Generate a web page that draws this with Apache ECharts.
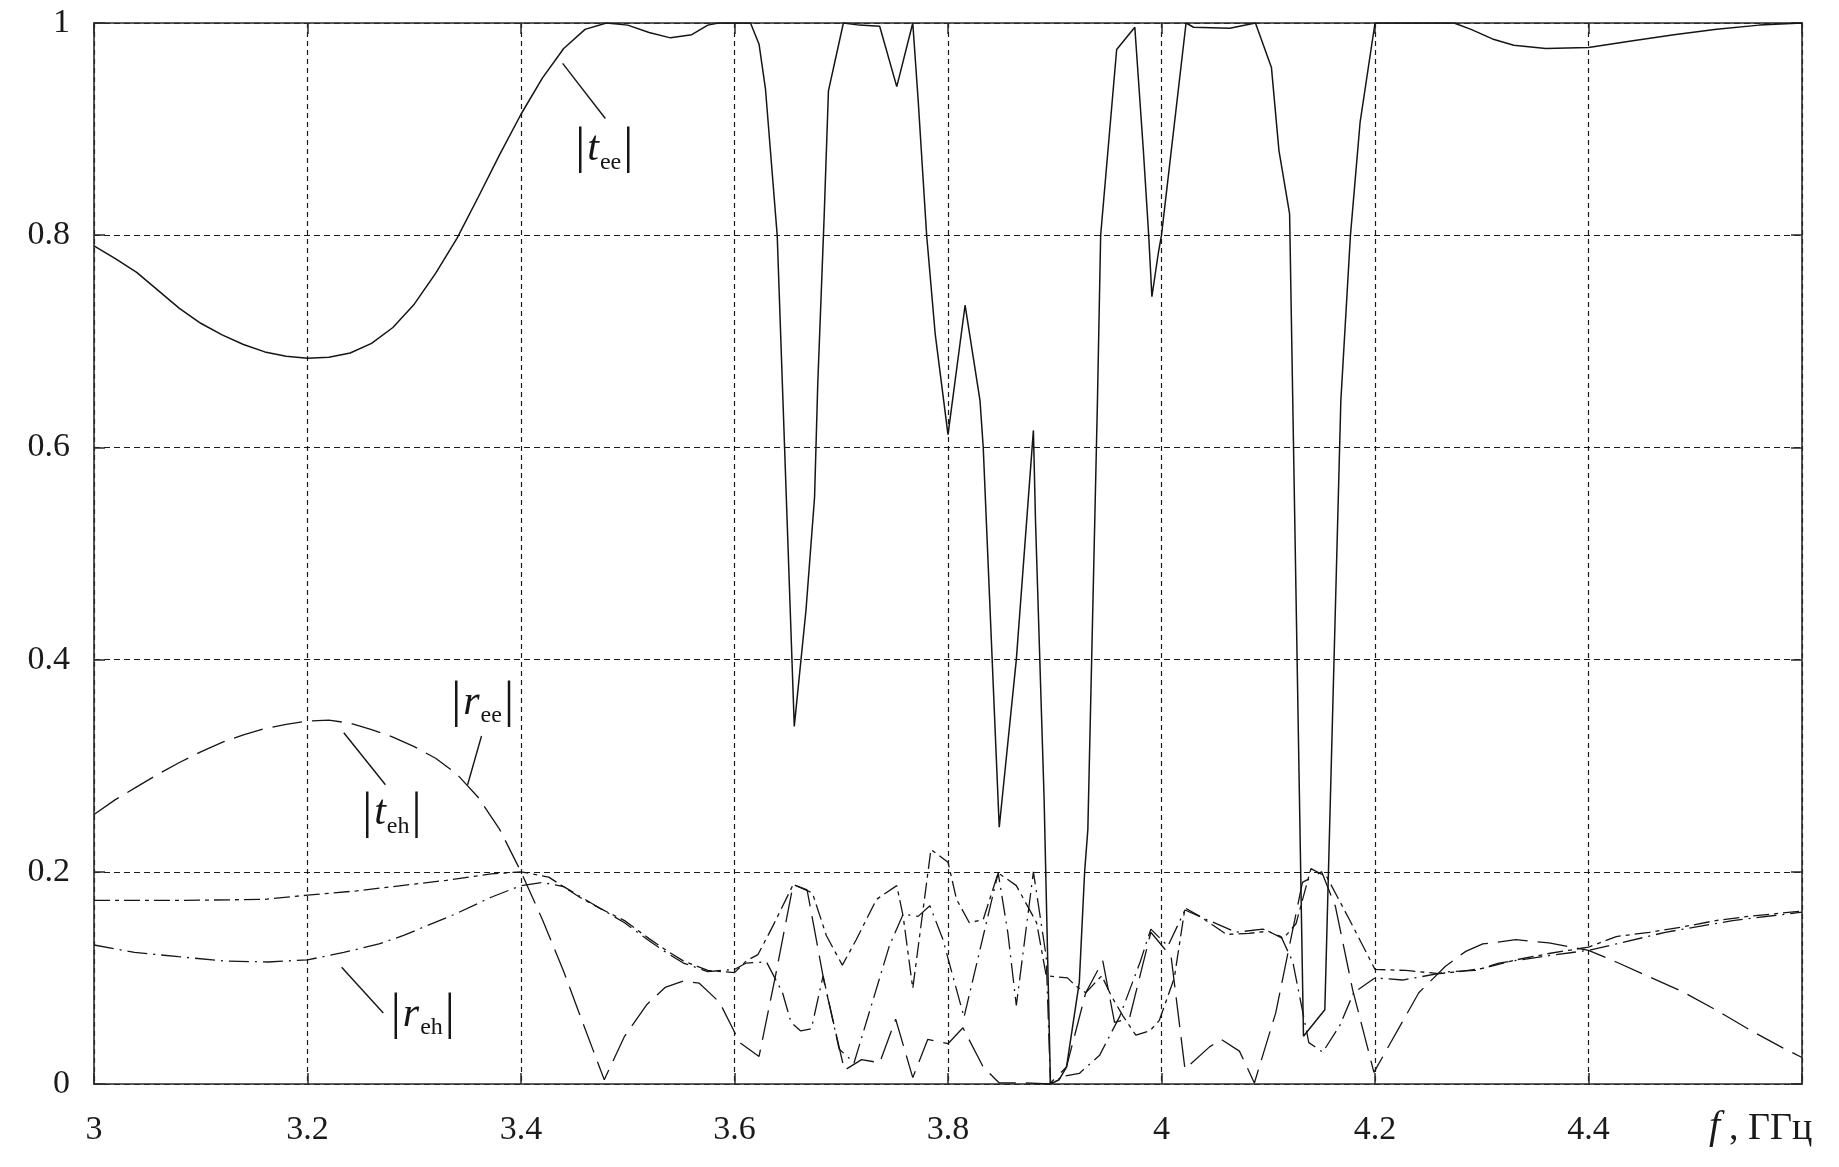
<!DOCTYPE html>
<html>
<head>
<meta charset="utf-8">
<script src="https://cdn.jsdelivr.net/npm/echarts@6/dist/echarts.min.js"></script>
<style>
html,body{margin:0;padding:0;background:#fff;}
#chart{width:1839px;height:1167px;}
</style>
</head>
<body>
<div id="chart"></div>
<script>
// ---- DATA (frequency GHz, magnitude) ----
const xTicks = [3, 3.2, 3.4, 3.6, 3.8, 4, 4.2, 4.4, 4.6];
const yTicks = [0, 0.2, 0.4, 0.6, 0.8, 1];

const tEE = [[3.00,0.790],[3.02,0.778],[3.04,0.765],[3.06,0.748],[3.08,0.731],[3.10,0.717],[3.12,0.706],[3.14,0.697],[3.16,0.690],[3.18,0.686],[3.20,0.684],[3.22,0.685],[3.24,0.689],[3.26,0.698],[3.28,0.713],[3.30,0.735],[3.32,0.764],[3.34,0.797],[3.36,0.836],[3.38,0.876],[3.40,0.914],[3.42,0.948],[3.44,0.976],[3.46,0.994],[3.48,1.000],[3.50,0.998],[3.52,0.991],[3.54,0.986],[3.56,0.989],[3.575,0.998],[3.585,1.000],[3.615,1.000],[3.623,0.980],[3.629,0.938],[3.640,0.800],[3.656,0.337],[3.667,0.447],[3.675,0.553],[3.678,0.660],[3.684,0.818],[3.688,0.936],[3.702,1.000],[3.717,0.998],[3.736,0.997],[3.752,0.940],[3.767,1.000],[3.772,0.928],[3.780,0.800],[3.788,0.707],[3.800,0.612],[3.816,0.734],[3.830,0.644],[3.833,0.600],[3.848,0.242],[3.864,0.400],[3.880,0.616],[3.882,0.530],[3.890,0.270],[3.896,0.000],[3.904,0.004],[3.911,0.016],[3.923,0.096],[3.928,0.200],[3.931,0.240],[3.940,0.644],[3.943,0.800],[3.958,0.975],[3.975,0.996],[3.983,0.880],[3.988,0.800],[3.991,0.742],[3.997,0.783],[4.000,0.800],[4.023,1.000],[4.030,0.996],[4.064,0.995],[4.088,1.000],[4.103,0.958],[4.110,0.880],[4.120,0.820],[4.133,0.045],[4.153,0.070],[4.168,0.644],[4.177,0.800],[4.186,0.906],[4.200,1.000],[4.274,1.000],[4.290,0.994],[4.310,0.985],[4.330,0.979],[4.360,0.976],[4.400,0.977],[4.440,0.983],[4.480,0.989],[4.520,0.994],[4.560,0.998],[4.600,1.000]];

const rEE = [[3.00,0.254],[3.02,0.268],[3.04,0.280],[3.06,0.292],[3.08,0.303],[3.10,0.313],[3.12,0.322],[3.14,0.329],[3.16,0.335],[3.18,0.339],[3.20,0.342],[3.22,0.343],[3.24,0.340],[3.26,0.334],[3.28,0.327],[3.30,0.318],[3.32,0.307],[3.34,0.292],[3.36,0.270],[3.38,0.240],[3.40,0.200],[3.42,0.155],[3.44,0.106],[3.46,0.052],[3.478,0.004],[3.497,0.045],[3.518,0.075],[3.535,0.091],[3.552,0.097],[3.567,0.095],[3.586,0.077],[3.605,0.039],[3.623,0.026],[3.639,0.105],[3.655,0.188],[3.668,0.183],[3.684,0.096],[3.703,0.013],[3.719,0.023],[3.736,0.020],[3.751,0.061],[3.767,0.006],[3.781,0.042],[3.800,0.038],[3.814,0.053],[3.833,0.016],[3.848,0.001],[3.873,0.001],[3.895,0.000],[3.911,0.016],[3.929,0.086],[3.945,0.116],[3.956,0.058],[3.970,0.062],[3.990,0.143],[4.009,0.120],[4.022,0.014],[4.045,0.035],[4.056,0.042],[4.073,0.031],[4.087,0.001],[4.107,0.067],[4.132,0.190],[4.150,0.200],[4.163,0.167],[4.179,0.089],[4.199,0.011],[4.213,0.036],[4.241,0.086],[4.266,0.111],[4.285,0.125],[4.301,0.132],[4.332,0.136],[4.363,0.133],[4.400,0.126],[4.426,0.115],[4.457,0.101],[4.488,0.087],[4.519,0.070],[4.551,0.051],[4.582,0.034],[4.600,0.025]];

const tEH = [[3.000,0.173],[3.080,0.173],[3.160,0.174],[3.200,0.178],[3.246,0.182],[3.288,0.187],[3.330,0.192],[3.372,0.198],[3.400,0.200],[3.426,0.195],[3.455,0.176],[3.475,0.165],[3.497,0.154],[3.520,0.137],[3.536,0.126],[3.552,0.116],[3.575,0.107],[3.600,0.105],[3.611,0.116],[3.622,0.122],[3.636,0.149],[3.655,0.188],[3.673,0.180],[3.686,0.140],[3.701,0.112],[3.714,0.136],[3.733,0.174],[3.752,0.187],[3.758,0.158],[3.767,0.090],[3.784,0.221],[3.800,0.209],[3.808,0.174],[3.820,0.152],[3.833,0.155],[3.847,0.199],[3.864,0.187],[3.883,0.152],[3.892,0.102],[3.912,0.100],[3.919,0.093],[3.929,0.086],[3.944,0.102],[3.953,0.083],[3.964,0.064],[3.976,0.046],[3.989,0.050],[3.998,0.060],[4.012,0.100],[4.022,0.166],[4.036,0.158],[4.061,0.141],[4.082,0.142],[4.100,0.144],[4.114,0.137],[4.126,0.151],[4.140,0.203],[4.155,0.195],[4.176,0.155],[4.200,0.108],[4.229,0.107],[4.260,0.104],[4.279,0.106],[4.301,0.109],[4.332,0.117],[4.363,0.123],[4.400,0.129],[4.426,0.139],[4.457,0.143],[4.488,0.148],[4.519,0.154],[4.550,0.158],[4.600,0.163]];

const rEH = [[3.000,0.131],[3.038,0.124],[3.079,0.120],[3.121,0.116],[3.163,0.115],[3.200,0.117],[3.234,0.124],[3.267,0.132],[3.290,0.140],[3.309,0.148],[3.338,0.160],[3.372,0.176],[3.400,0.187],[3.420,0.190],[3.440,0.186],[3.470,0.168],[3.497,0.152],[3.520,0.135],[3.536,0.124],[3.552,0.114],[3.575,0.106],[3.600,0.108],[3.611,0.114],[3.630,0.115],[3.645,0.086],[3.653,0.058],[3.662,0.050],[3.672,0.052],[3.683,0.102],[3.698,0.033],[3.712,0.020],[3.730,0.080],[3.745,0.130],[3.758,0.160],[3.772,0.158],[3.783,0.168],[3.795,0.137],[3.815,0.063],[3.847,0.199],[3.856,0.143],[3.864,0.074],[3.880,0.200],[3.892,0.120],[3.896,0.000],[3.907,0.007],[3.923,0.010],[3.942,0.027],[3.961,0.064],[3.980,0.115],[3.990,0.146],[4.006,0.130],[4.022,0.164],[4.040,0.156],[4.070,0.143],[4.095,0.146],[4.112,0.139],[4.123,0.115],[4.138,0.039],[4.151,0.030],[4.167,0.055],[4.180,0.086],[4.200,0.100],[4.226,0.098],[4.270,0.106],[4.294,0.107],[4.316,0.114],[4.363,0.121],[4.400,0.126],[4.426,0.132],[4.472,0.143],[4.535,0.154],[4.600,0.162]];

// curve labels (letter, subscript) and their anchor / pointer positions in data units
const labelLetters = ['t', 'r', 't', 'r'];
const labelSubs = ['ee', 'ee', 'eh', 'eh'];
const labelAt = [[3.478,0.881],[3.364,0.359],[3.279,0.255],[3.308,0.065]];
const pointerFrom = [[3.439,0.962],[3.363,0.328],[3.234,0.331],[3.232,0.110]];
const pointerTo = [[3.479,0.910],[3.350,0.282],[3.273,0.282],[3.271,0.067]];

// ---- CHART ----
const SERIF = '"Liberation Serif","Times New Roman",serif';
const INK = '#151515';
const chart = echarts.init(document.getElementById('chart'), null, {renderer: 'canvas'});

function fmt(v) { return String(+v.toFixed(1)); }

const frameAxis = {
  axisLine: {show: true, onZero: false, lineStyle: {color: '#2a2a2a', width: 1.6}},
  axisTick: {show: true, inside: true, length: 11, lineStyle: {color: '#2a2a2a', width: 1.5}}
};

const option = {
  animation: false,
  backgroundColor: '#ffffff',
  grid: {left: 94, right: 37, top: 23, bottom: 83, containLabel: false},
  xAxis: [
    Object.assign({
      type: 'value', min: xTicks[0], max: xTicks[xTicks.length - 1], interval: 0.2,
      axisLabel: {margin: 29, fontFamily: SERIF, fontSize: 34, color: '#1a1a1a',
        formatter: v => (Math.abs(v - 4.6) < 1e-6 ? '' : fmt(v))},
      splitLine: {show: true, lineStyle: {type: [5, 4], color: '#1a1a1a', width: 1.2}}
    }, frameAxis),
    Object.assign({
      type: 'value', position: 'top', min: 3, max: 4.6, interval: 0.2,
      axisLabel: {show: false}, splitLine: {show: false}
    }, frameAxis)
  ],
  yAxis: [
    Object.assign({
      type: 'value', min: yTicks[0], max: yTicks[yTicks.length - 1], interval: 0.2,
      axisLabel: {margin: 24, fontFamily: SERIF, fontSize: 34, color: '#1a1a1a', formatter: v => fmt(v)},
      splitLine: {show: true, lineStyle: {type: [6, 4], color: '#1a1a1a', width: 1.2}}
    }, frameAxis),
    Object.assign({
      type: 'value', position: 'right', min: 0, max: 1, interval: 0.2,
      axisLabel: {show: false}, splitLine: {show: false}
    }, frameAxis)
  ],
  graphic: [
    {type: 'text', left: 1709, top: 1107, style: {text: 'f', font: 'italic 40px ' + SERIF, fill: '#1a1a1a'}},
    {type: 'text', left: 1729, top: 1110, style: {text: ', ГГц', font: '38px ' + SERIF, fill: '#1a1a1a'}}
  ],
  series: [
    {
      name: '|t_ee|', type: 'line', data: tEE, showSymbol: false, symbol: 'none',
      lineStyle: {color: INK, width: 1.5, type: 'solid'}, z: 5,
      markLine: {
        silent: true, symbol: ['none', 'none'], label: {show: false},
        lineStyle: {type: 'solid', color: INK, width: 1.4},
        data: pointerFrom.map((p, i) => [{coord: p}, {coord: pointerTo[i]}])
      },
      markPoint: {
        silent: true, symbol: 'circle', symbolSize: 1,
        itemStyle: {color: 'rgba(0,0,0,0)'},
        label: {
          show: true, position: 'inside', color: INK,
          rich: {
            bar: {fontFamily: SERIF, fontSize: 50, lineHeight: 54, verticalAlign: 'middle', color: INK},
            let: {fontFamily: SERIF, fontStyle: 'italic', fontSize: 42, lineHeight: 54, verticalAlign: 'middle', color: INK, padding: [0, 1, 0, 2]},
            sub: {fontFamily: SERIF, fontSize: 24, lineHeight: 24, verticalAlign: 'middle', color: INK, padding: [26, 2, 0, 0]}
          }
        },
        data: labelAt.map((c, i) => ({
          coord: c, value: 0,
          label: {formatter: '{bar||}{let|' + labelLetters[i] + '}{sub|' + labelSubs[i] + '}{bar||}'}
        }))
      }
    },
    {
      name: '|r_ee|', type: 'line', data: rEE, showSymbol: false, symbol: 'none',
      lineStyle: {color: INK, width: 1.3, type: [30, 10]}
    },
    {
      name: '|t_eh|', type: 'line', data: tEH, showSymbol: false, symbol: 'none',
      lineStyle: {color: INK, width: 1.3, type: [16, 5, 4, 5]}
    },
    {
      name: '|r_eh|', type: 'line', data: rEH, showSymbol: false, symbol: 'none',
      lineStyle: {color: INK, width: 1.3, type: [20, 6, 2, 6]}
    }
  ]
};
chart.setOption(option);
</script>
</body>
</html>
